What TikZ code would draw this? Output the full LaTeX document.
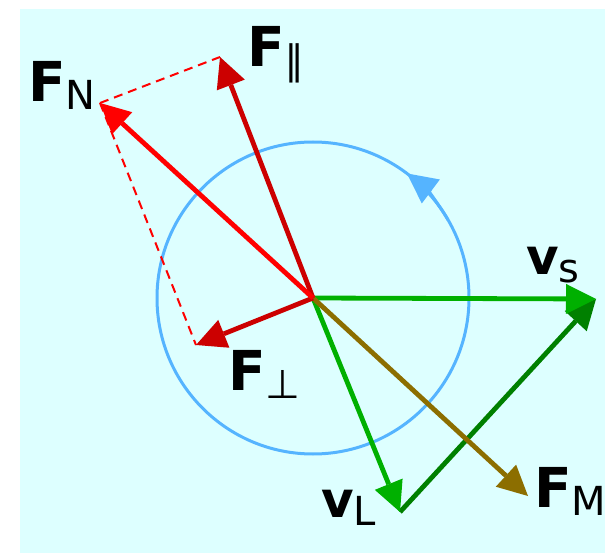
\documentclass[tikz,border=0pt]{standalone}
\usepackage{fontspec}
\setmainfont{DejaVu Sans}
\usepackage{tikz}
\usetikzlibrary{arrows.meta}
\definecolor{bgcyan}{HTML}{DDFFFF}
\definecolor{orbitblue}{HTML}{55B4FF}
\definecolor{darkred}{HTML}{CC0000}
\definecolor{vgreen}{HTML}{00B000}
\definecolor{dgreen}{HTML}{008000}
\definecolor{olive}{HTML}{8C6E00}
\newcommand{\lowsub}[1]{\raisebox{-8pt}{\fontsize{40}{44}\selectfont\mdseries #1}}
\tikzset{
  vec/.style={line width=4.8pt, -{Triangle[length=30pt, width=30pt, line width=0pt]}},
  part/.style={draw=red, line width=2pt, dash pattern=on 9pt off 6pt},
  orbit/.style={draw=orbitblue, line width=3pt},
  flbl/.style={inner sep=0pt, anchor=base west, font=\fontsize{55}{60}\selectfont\bfseries},
  vlbl/.style={inner sep=0pt, anchor=base west, font=\fontsize{50}{55}\selectfont\bfseries},
}

\begin{document}
\begin{tikzpicture}[x=1pt, y=-1pt]
\useasboundingbox (0,0) rectangle (605,553);
\fill[bgcyan] (20,9) rectangle (605,553);
\coordinate (O) at (313,298);
\coordinate (tipN) at (100,103);
\coordinate (tipPar) at (220,57);
\coordinate (tipPerp) at (196,345);
\coordinate (tipS) at (596,299);
\coordinate (tipL) at (400,512);
\coordinate (tipM) at (528,496);
% rotation circle
\draw[orbit] (O) circle[radius=156];
\draw[orbit, -{Triangle[length=30pt, width=30pt, line width=0pt]}] ([shift={(-30:156)}]O) arc[start angle=-30, end angle=-53, radius=156];
% components of F_N
\draw[part] (tipN) -- (tipPar);
\draw[part] (tipN) -- (tipPerp);
% velocities and forces
\draw[vec, dgreen] (tipL) -- (tipS);
\draw[vec, vgreen] (O) -- (tipS);
\draw[vec, vgreen] (O) -- (tipL);
\draw[vec, olive] (O) -- (tipM);
\draw[vec, darkred] (O) -- (tipPerp);
\draw[vec, darkred] (O) -- (tipPar);
\draw[vec, red] (O) -- (tipN);
\node[flbl] (lblN) at (28,102) {F\lowsub{N}};
\node[flbl] (lblPar) at (247,67) {F\lowsub{∥}};
\node[flbl] (lblPerp) at (228,390) {F\lowsub{⊥}};
\node[vlbl] (lblS) at (526,275) {v\lowsub{s}};
\node[vlbl] (lblL) at (321,517) {v\lowsub{L}};
\node[flbl] (lblM) at (534,507) {F\lowsub{M}};
\end{tikzpicture}
\end{document}
